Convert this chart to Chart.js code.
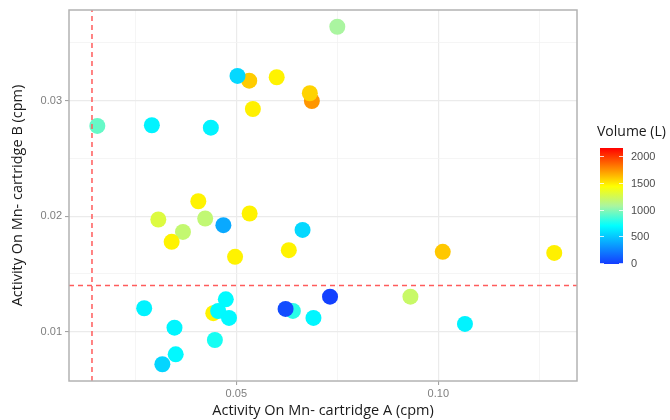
<!DOCTYPE html>
<html>
<head>
<meta charset="utf-8">
<script src="https://cdn.jsdelivr.net/npm/chart.js@4.4.0/dist/chart.umd.min.js"></script>
<style>
  html, body { margin: 0; padding: 0; background: #fff; }
  #wrap { width: 670px; height: 420px; }
</style>
</head>
<body>
<div id="wrap"><canvas id="scatterChart" width="670" height="420"></canvas></div>
<script>
// Activity on cartridge A / B and filtered volume for each sample
const activityA = [0.0750, 0.0532, 0.0503, 0.0600, 0.0687, 0.0682, 0.0541, 0.0156, 0.0291, 0.0437,
                   0.0406, 0.0307, 0.0368, 0.0423, 0.0468, 0.0533, 0.0340, 0.0497, 0.0630, 0.0664,
                   0.0272, 0.0347, 0.0350, 0.0317, 0.0443, 0.0455, 0.0474, 0.0482, 0.0447, 0.0640,
                   0.0622, 0.0691, 0.0732, 0.0931, 0.1066, 0.1011, 0.1287];
const activityB = [0.0364, 0.03173, 0.03214, 0.03203, 0.02997, 0.03064, 0.02928, 0.02781, 0.02787, 0.02766,
                   0.02129, 0.01971, 0.01864, 0.0198, 0.01922, 0.02023, 0.01778, 0.01648, 0.01706, 0.01881,
                   0.01203, 0.01035, 0.00804, 0.00718, 0.0116, 0.01179, 0.0128, 0.01119, 0.00928, 0.0118,
                   0.01197, 0.01119, 0.01303, 0.01303, 0.01067, 0.01691, 0.01682];
const volume    = [1080, 1590, 570, 1480, 1740, 1570, 1490, 930, 670, 670,
                   1480, 1300, 1190, 1180, 400, 1480, 1480, 1480, 1480, 570,
                   670, 680, 690, 560, 1480, 700, 700, 690, 760, 800,
                   60, 680, 20, 1210, 670, 1600, 1490];

// thresholds (dashed lines)
const limitA = 0.01428;
const limitB = 0.0140;

// axis ranges and breaks
const X_MIN = 0.00859, X_MAX = 0.13433;
const Y_MIN = 0.00573, Y_MAX = 0.03785;
const xBreaks = [0.025, 0.05, 0.075, 0.10, 0.125];
const xMajor = [0.05, 0.10];
const yBreaks = [0.01, 0.015, 0.02, 0.025, 0.03, 0.035];
const yMajor = [0.01, 0.02, 0.03];

// colour scale
const COLOR_MIN = 0, COLOR_MAX = 2160;
const legendBreaks = [0, 500, 1000, 1500, 2000];
const rampStops = [
    [0, [20, 60, 255]],
    [0.33, [0, 255, 255]],
    [0.5, [170, 245, 160]],
    [0.67, [255, 255, 0]],
    [1, [255, 0, 0]]
];

function volColor(v) {
    let t = (v - COLOR_MIN) / (COLOR_MAX - COLOR_MIN);
    t = Math.max(0, Math.min(1, t));
    for (let i = 1; i < rampStops.length; i++) {
        const [t1, c1] = rampStops[i];
        const [t0, c0] = rampStops[i - 1];
        if (t <= t1) {
            const f = (t - t0) / (t1 - t0);
            const c = c0.map((a, k) => Math.round(a + (c1[k] - a) * f));
            return `rgb(${c[0]},${c[1]},${c[2]})`;
        }
    }
    return 'rgb(255,0,0)';
}

const isMajor = (list, v) => list.some(m => Math.abs(m - v) < 1e-9);

const points = activityA.map((a, i) => ({ x: a, y: activityB[i] }));

// panel border + colourbar legend
const panelPlugin = {
    id: 'panel',
    afterDraw(chart) {
        const ctx = chart.ctx;
        const area = chart.chartArea;
        ctx.save();
        ctx.strokeStyle = '#b3b3b3';
        ctx.lineWidth = 1.5;
        ctx.strokeRect(area.left, area.top, area.right - area.left, area.bottom - area.top);

        // legend
        const barX = 600, barW = 23, barTop = 148, barBottom = 264;
        const valToY = v => barBottom - 1.3 - (v - COLOR_MIN) / (COLOR_MAX - COLOR_MIN) * (barBottom - 1.3 - barTop);
        const grad = ctx.createLinearGradient(0, barBottom, 0, barTop);
        rampStops.forEach(([t, c]) => grad.addColorStop(t, `rgb(${c[0]},${c[1]},${c[2]})`));
        ctx.fillStyle = grad;
        ctx.fillRect(barX, barTop, barW, barBottom - barTop);

        ctx.strokeStyle = 'rgba(255,255,255,0.8)';
        ctx.lineWidth = 1;
        ctx.font = '11px "Liberation Sans", Arial, sans-serif';
        ctx.fillStyle = '#4d4d4d';
        ctx.textBaseline = 'middle';
        ctx.textAlign = 'left';
        legendBreaks.forEach(v => {
            const y = Math.round(valToY(v)) + 0.5;
            ctx.beginPath();
            ctx.moveTo(barX, y); ctx.lineTo(barX + 4, y);
            ctx.moveTo(barX + barW - 4, y); ctx.lineTo(barX + barW, y);
            ctx.stroke();
            ctx.fillText(String(v), 631, y);
        });

        ctx.font = '14px "Open Sans", sans-serif';
        ctx.fillStyle = '#1a1a1a';
        ctx.fillText('Volume (L)', 597, 132);
        ctx.restore();
    }
};

new Chart(document.getElementById('scatterChart').getContext('2d'), {
    type: 'scatter',
    data: {
        datasets: [
            {
                data: [{ x: limitA, y: Y_MIN }, { x: limitA, y: Y_MAX }],
                showLine: true,
                borderColor: '#ff5c5c',
                borderWidth: 1.5,
                borderDash: [5, 4],
                pointRadius: 0
            },
            {
                data: [{ x: X_MIN, y: limitB }, { x: X_MAX, y: limitB }],
                showLine: true,
                borderColor: '#ff5c5c',
                borderWidth: 1.5,
                borderDash: [5, 4],
                pointRadius: 0
            },
            {
                data: points,
                pointRadius: 8,
                pointHoverRadius: 8,
                pointBorderWidth: 0,
                pointBackgroundColor: volume.map(volColor),
                pointBorderColor: volume.map(volColor)
            }
        ]
    },
    options: {
        responsive: false,
        animation: false,
        layout: { padding: { top: 10, right: 93, left: 0, bottom: 0 } },
        plugins: {
            legend: { display: false },
            tooltip: { enabled: false }
        },
        scales: {
            x: {
                type: 'linear',
                min: X_MIN,
                max: X_MAX,
                afterFit: s => { s.height = 39; },
                afterBuildTicks: s => { s.ticks = xBreaks.map(v => ({ value: v })); },
                ticks: {
                    autoSkip: false,
                    maxRotation: 0,
                    padding: 2,
                    color: '#7f7f7f',
                    font: { family: '"Liberation Sans", Arial, sans-serif', size: 11 },
                    callback: v => isMajor(xMajor, v) ? v.toFixed(2) : ''
                },
                grid: {
                    color: c => isMajor(xMajor, c.tick.value) ? '#ebebeb' : '#f3f3f3',
                    lineWidth: c => isMajor(xMajor, c.tick.value) ? 1.2 : 0.8,
                    tickColor: c => isMajor(xMajor, c.tick.value) ? '#9a9a9a' : 'rgba(0,0,0,0)',
                    tickLength: 4,
                    tickWidth: 1
                },
                border: { display: false },
                title: {
                    display: true,
                    text: 'Activity On Mn- cartridge A (cpm)',
                    color: '#1a1a1a',
                    font: { family: '"Open Sans", sans-serif', size: 14.5 },
                    padding: { top: 0, bottom: 0 }
                }
            },
            y: {
                type: 'linear',
                min: Y_MIN,
                max: Y_MAX,
                afterFit: s => { s.width = 69; },
                afterBuildTicks: s => { s.ticks = yBreaks.map(v => ({ value: v })); },
                ticks: {
                    autoSkip: false,
                    padding: 3,
                    color: '#7f7f7f',
                    font: { family: '"Liberation Sans", Arial, sans-serif', size: 11 },
                    callback: v => isMajor(yMajor, v) ? v.toFixed(2) : ''
                },
                grid: {
                    color: c => isMajor(yMajor, c.tick.value) ? '#ebebeb' : '#f3f3f3',
                    lineWidth: c => isMajor(yMajor, c.tick.value) ? 1.2 : 0.8,
                    tickColor: c => isMajor(yMajor, c.tick.value) ? '#9a9a9a' : 'rgba(0,0,0,0)',
                    tickLength: 4,
                    tickWidth: 1
                },
                border: { display: false },
                title: {
                    display: true,
                    text: 'Activity On Mn- cartridge B (cpm)',
                    color: '#1a1a1a',
                    font: { family: '"Open Sans", sans-serif', size: 14.5 },
                    padding: { top: 9, bottom: 0 }
                }
            }
        }
    },
    plugins: [panelPlugin]
});
</script>
</body>
</html>
